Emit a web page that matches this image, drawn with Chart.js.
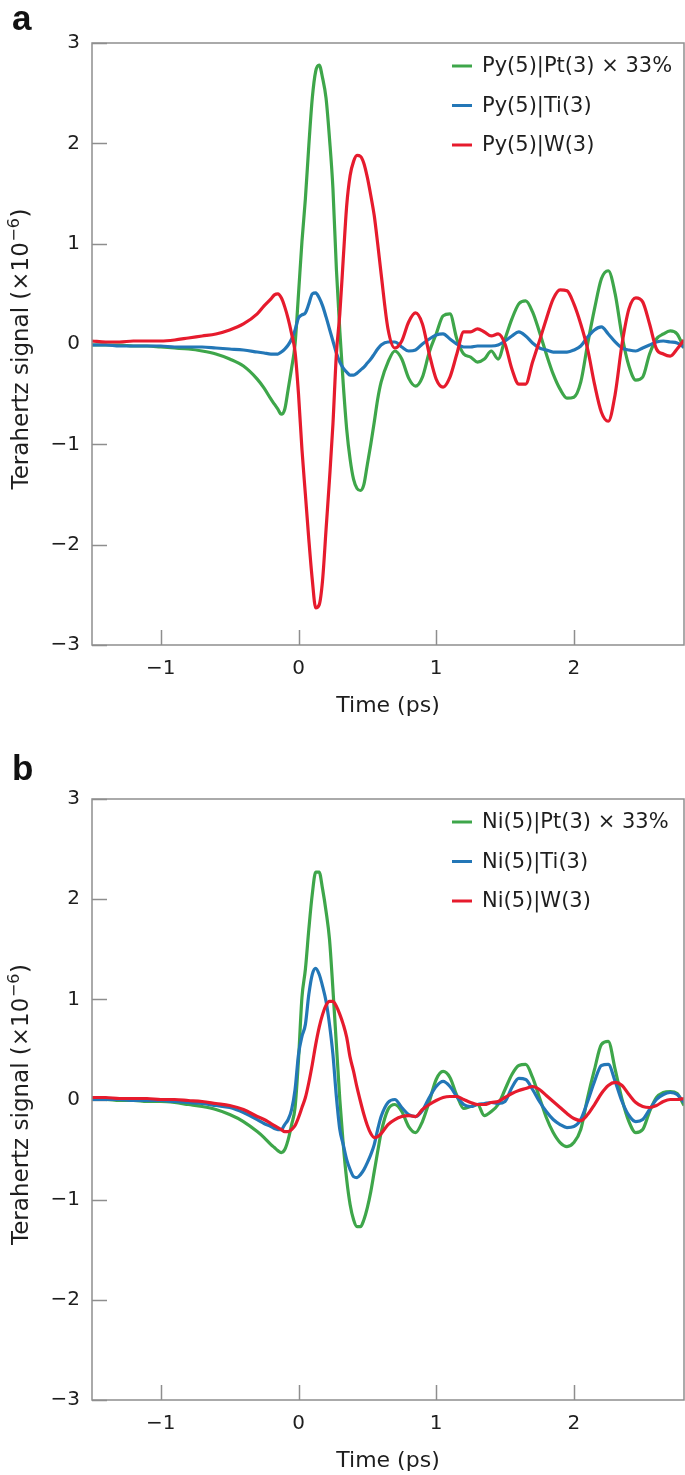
<!DOCTYPE html>
<html><head><meta charset="utf-8">
<script src="https://cdn.jsdelivr.net/npm/chart.js@4.4.1/dist/chart.umd.min.js"></script>
<style>
html,body{margin:0;padding:0;background:#fff;}
#wrap{position:relative;width:685px;height:1475px;overflow:hidden;background:#fff;}
canvas{position:absolute;left:0;}
.lab{position:absolute;left:12px;font:bold 35px "Liberation Sans",Arial,sans-serif;line-height:35px;color:#111;}
</style></head><body>
<div id="wrap">
<canvas id="ca" width="685" height="720" style="top:0"></canvas>
<canvas id="cb" width="685" height="719" style="top:756px"></canvas>
<div class="lab" style="top:0px">a</div>
<div class="lab" style="top:750px">b</div>
</div>
<script>
// ---- data ----
const time = [-1.5,-1.4,-1.3,-1.2,-1.1,-1.0,-0.9,-0.8,-0.7,-0.6,-0.5,-0.4,-0.3,-0.25,
 -0.2,-0.175,-0.15,-0.125,-0.1,-0.075,-0.05,-0.025,0,
 0.025,0.05,0.075,0.1,0.125,0.15,0.175,0.2,0.225,0.25,0.275,0.3,0.325,0.35,0.375,0.4,0.425,0.45,0.475,0.5,0.525,0.55,0.575,0.6,
 0.65,0.7,0.75,0.8,0.85,0.9,0.95,1.0,1.05,1.1,1.15,1.2,1.25,1.3,1.35,1.4,1.45,1.5,1.55,1.6,1.65,1.7,1.75,1.8,1.85,1.9,1.95,2.0,2.05,2.1,2.15,2.2,2.25,2.3,2.35,2.4,2.45,2.5,2.55,2.6,2.65,2.7,2.75,2.8];

const xTickValues = [-1, 0, 1, 2];
const yTickValues = [-3, -2, -1, 0, 1, 2, 3];

const labelsA = ['Py(5)|Pt(3) \u00d7 33%', 'Py(5)|Ti(3)', 'Py(5)|W(3)'];
const labelsB = ['Ni(5)|Pt(3) \u00d7 33%', 'Ni(5)|Ti(3)', 'Ni(5)|W(3)'];
const xTitle = 'Time (ps)';
const yTitleMain = 'Terahertz signal (\u00d710';
const yTitleSup = '\u22126';
const yTitleEnd = ')';

// panel a
const pyPt = [-0.01,-0.01,-0.01,-0.02,-0.02,-0.03,-0.04,-0.05,-0.07,-0.10,-0.15,-0.22,-0.35,-0.44,
 -0.55,-0.60,-0.65,-0.70,-0.65,-0.45,-0.24,0.0,0.5,
 1.02,1.45,1.98,2.45,2.72,2.78,2.65,2.45,2.05,1.55,0.75,0.13,-0.4,-0.85,-1.15,-1.35,-1.44,-1.46,-1.40,-1.2,-1.0,-0.78,-0.55,-0.38,
 -0.18,-0.07,-0.15,-0.34,-0.42,-0.33,-0.08,0.1,0.28,0.3,0.05,-0.1,-0.13,-0.18,-0.15,-0.07,-0.15,0.05,0.25,0.4,0.43,0.32,0.12,-0.1,-0.3,-0.45,-0.54,-0.53,-0.38,0.0,0.35,0.65,0.73,0.5,0.08,-0.22,-0.36,-0.33,-0.1,0.05,0.1,0.13,0.1,-0.04];
const pyTi = [-0.01,-0.01,-0.02,-0.02,-0.02,-0.02,-0.03,-0.03,-0.03,-0.04,-0.05,-0.06,-0.08,-0.09,
 -0.1,-0.1,-0.1,-0.08,-0.05,-0.01,0.05,0.14,0.26,
 0.29,0.31,0.4,0.5,0.51,0.46,0.38,0.27,0.15,0.03,-0.09,-0.18,-0.24,-0.28,-0.31,-0.31,-0.29,-0.26,-0.23,-0.19,-0.15,-0.1,-0.05,-0.01,
 0.02,0.02,-0.03,-0.07,-0.06,0.0,0.05,0.09,0.1,0.05,0.0,-0.03,-0.03,-0.02,-0.02,-0.02,-0.01,0.03,0.08,0.12,0.08,0.01,-0.04,-0.06,-0.08,-0.08,-0.08,-0.06,-0.02,0.07,0.14,0.17,0.1,0.02,-0.04,-0.06,-0.07,-0.04,-0.01,0.02,0.03,0.02,0.01,-0.03];
const pyW = [0.03,0.02,0.02,0.03,0.03,0.03,0.04,0.06,0.08,0.1,0.14,0.2,0.3,0.38,
 0.45,0.49,0.5,0.46,0.37,0.25,0.1,-0.08,-0.5,
 -1.05,-1.5,-1.95,-2.35,-2.63,-2.6,-2.35,-1.85,-1.35,-0.8,-0.1,0.3,0.85,1.38,1.68,1.82,1.88,1.87,1.8,1.66,1.48,1.28,1.0,0.7,
 0.15,-0.04,0.03,0.22,0.31,0.2,-0.1,-0.35,-0.43,-0.33,-0.1,0.12,0.12,0.15,0.12,0.08,0.1,0.0,-0.25,-0.4,-0.4,-0.18,0.03,0.25,0.45,0.54,0.53,0.4,0.2,-0.05,-0.4,-0.68,-0.77,-0.5,0.0,0.35,0.46,0.42,0.2,-0.05,-0.1,-0.12,-0.05,0.04];

// panel b
const niPt = [0.0,0.0,-0.01,-0.01,-0.02,-0.02,-0.03,-0.05,-0.07,-0.1,-0.15,-0.22,-0.32,-0.38,
 -0.45,-0.48,-0.51,-0.53,-0.5,-0.4,-0.25,-0.08,0.4,
 1.02,1.3,1.7,2.05,2.27,2.27,2.1,1.88,1.6,1.1,0.55,0.0,-0.45,-0.8,-1.05,-1.2,-1.27,-1.27,-1.2,-1.08,-0.92,-0.72,-0.52,-0.33,
 -0.1,-0.05,-0.12,-0.27,-0.33,-0.22,-0.02,0.2,0.28,0.22,0.04,-0.09,-0.07,-0.05,-0.16,-0.12,-0.05,0.1,0.25,0.34,0.35,0.22,0.02,-0.18,-0.33,-0.43,-0.47,-0.43,-0.3,0.02,0.3,0.55,0.58,0.3,0.0,-0.22,-0.33,-0.3,-0.12,0.02,0.07,0.08,0.06,-0.06];
const niTi = [0.0,0.0,0.0,-0.01,-0.01,-0.01,-0.02,-0.03,-0.04,-0.06,-0.08,-0.13,-0.2,-0.24,
 -0.27,-0.29,-0.3,-0.3,-0.25,-0.2,-0.1,0.1,0.45,
 0.63,0.75,1.05,1.25,1.31,1.25,1.13,0.98,0.75,0.45,0.03,-0.3,-0.45,-0.6,-0.7,-0.77,-0.78,-0.75,-0.7,-0.63,-0.55,-0.45,-0.3,-0.17,
 -0.03,0.0,-0.08,-0.15,-0.17,-0.11,0.02,0.13,0.18,0.13,0.03,-0.05,-0.07,-0.05,-0.04,-0.03,-0.04,-0.02,0.12,0.21,0.2,0.1,-0.02,-0.12,-0.2,-0.25,-0.28,-0.27,-0.2,-0.02,0.18,0.34,0.35,0.18,-0.02,-0.16,-0.22,-0.2,-0.1,0.0,0.05,0.07,0.05,-0.03];
const niW = [0.02,0.02,0.01,0.01,0.01,0.0,0.0,-0.01,-0.02,-0.04,-0.06,-0.1,-0.17,-0.2,
 -0.24,-0.26,-0.28,-0.3,-0.32,-0.32,-0.3,-0.26,-0.18,
 -0.08,0.02,0.17,0.35,0.55,0.72,0.85,0.94,0.98,0.98,0.93,0.85,0.75,0.62,0.42,0.28,0.12,-0.02,-0.15,-0.26,-0.34,-0.38,-0.37,-0.34,
 -0.25,-0.2,-0.17,-0.16,-0.17,-0.1,-0.05,-0.01,0.02,0.03,0.03,0.0,-0.03,-0.05,-0.05,-0.03,-0.02,0.02,0.06,0.09,0.11,0.13,0.1,0.04,-0.02,-0.08,-0.14,-0.19,-0.21,-0.15,-0.05,0.06,0.14,0.17,0.14,0.05,-0.03,-0.07,-0.08,-0.06,-0.02,0.0,0.0,0.01];

const seriesColors = ['#3ea64a', '#2377b7', '#e61b2d'];

// ---- chart builder ----
const FONT = '"DejaVu Sans", "Liberation Sans", sans-serif';
const TXT = '#1e1e1e';
const AXC = '#8e8e8e';
const minusFmt = v => (v < 0 ? '\u2212' + Math.abs(v) : String(v));

function pts(vals) { return time.map((t, i) => ({ x: t, y: vals[i] })); }

function decorPlugin(labels) {
  return {
    id: 'decor',
    beforeDatasetsDraw(chart) {
      const { ctx, chartArea: a, scales: { x, y } } = chart;
      ctx.save();
      ctx.strokeStyle = AXC; ctx.lineWidth = 1.5;
      ctx.beginPath();
      x.ticks.forEach(t => { const p = Math.round(x.getPixelForValue(t.value)) + 0.5; ctx.moveTo(p, a.bottom); ctx.lineTo(p, a.bottom - 15); });
      y.ticks.forEach(t => { const p = Math.round(y.getPixelForValue(t.value)) + 0.5; ctx.moveTo(a.left, p); ctx.lineTo(a.left + 15, p); });
      ctx.stroke();
      // y title with real superscript
      const fMain = '23px ' + FONT, fSup = '16px ' + FONT;
      ctx.font = fMain; const w1 = ctx.measureText(yTitleMain).width; const w3 = ctx.measureText(yTitleEnd).width;
      ctx.font = fSup; const w2 = ctx.measureText(yTitleSup).width;
      const total = w1 + w2 + 1 + w3;
      ctx.translate(22, (a.top + a.bottom) / 2 + 5);
      ctx.rotate(-Math.PI / 2);
      ctx.fillStyle = TXT; ctx.textBaseline = 'middle'; ctx.textAlign = 'left';
      let xx = -total / 2;
      ctx.font = fMain; ctx.fillText(yTitleMain, xx, 0); xx += w1;
      ctx.font = fSup; ctx.fillText(yTitleSup, xx + 0.5, -7); xx += w2 + 1;
      ctx.font = fMain; ctx.fillText(yTitleEnd, xx, 0);
      ctx.restore();
    },
    afterDatasetsDraw(chart) {
      const { ctx, chartArea: a } = chart;
      ctx.save();
      ctx.strokeStyle = AXC; ctx.lineWidth = 1.5;
      ctx.strokeRect(a.left, a.top, a.right - a.left, a.bottom - a.top);
      const rows = [23, 62.5, 102];
      ctx.font = '21px ' + FONT;
      ctx.textBaseline = 'middle';
      ctx.textAlign = 'left';
      labels.forEach((lab, i) => {
        const yy = a.top + rows[i];
        ctx.strokeStyle = seriesColors[i]; ctx.lineWidth = 3;
        ctx.beginPath(); ctx.moveTo(452, yy); ctx.lineTo(472, yy); ctx.stroke();
        ctx.fillStyle = TXT;
        ctx.fillText(lab, 482, yy + 1);
      });
      ctx.restore();
    }
  };
}

function makeChart(id, labels, sPt, sTi, sW, xAxisH) {
  const ds = [
    { label: labels[0], data: pts(sPt), borderColor: seriesColors[0], order: 2 },
    { label: labels[1], data: pts(sTi), borderColor: seriesColors[1], order: 1 },
    { label: labels[2], data: pts(sW), borderColor: seriesColors[2], order: 0 }
  ].map(d => Object.assign(d, { borderWidth: 3.2, pointRadius: 0, fill: false, cubicInterpolationMode: 'monotone' }));
  return new Chart(document.getElementById(id), {
    type: 'line',
    data: { datasets: ds },
    options: {
      responsive: false, animation: false, devicePixelRatio: 1,
      layout: { padding: { top: 43, right: 1, left: 0, bottom: 0 } },
      plugins: { legend: { display: false }, tooltip: { enabled: false } },
      scales: {
        x: {
          type: 'linear', min: -1.5, max: 2.8,
          afterBuildTicks: s => { s.ticks = xTickValues.map(v => ({ value: v })); },
          afterFit: s => { s.height = xAxisH; },
          grid: { display: false, drawTicks: false }, border: { display: false },
          ticks: { padding: 12, color: TXT, font: { family: FONT, size: 20 }, callback: minusFmt, maxRotation: 0 },
          title: { display: true, text: xTitle, color: TXT, font: { family: FONT, size: 22 }, padding: { top: 0, bottom: 1 } }
        },
        y: {
          type: 'linear', min: -3, max: 3,
          afterBuildTicks: s => { s.ticks = yTickValues.map(v => ({ value: v })); },
          afterFit: s => { s.width = 92; },
          grid: { display: false, drawTicks: false }, border: { display: false },
          ticks: { padding: 12, color: TXT, font: { family: FONT, size: 20 }, callback: minusFmt },
          title: { display: false }
        }
      }
    },
    plugins: [decorPlugin(labels)]
  });
}

makeChart('ca', labelsA, pyPt, pyTi, pyW, 75);
makeChart('cb', labelsB, niPt, niTi, niW, 75);
</script>
</body></html>
